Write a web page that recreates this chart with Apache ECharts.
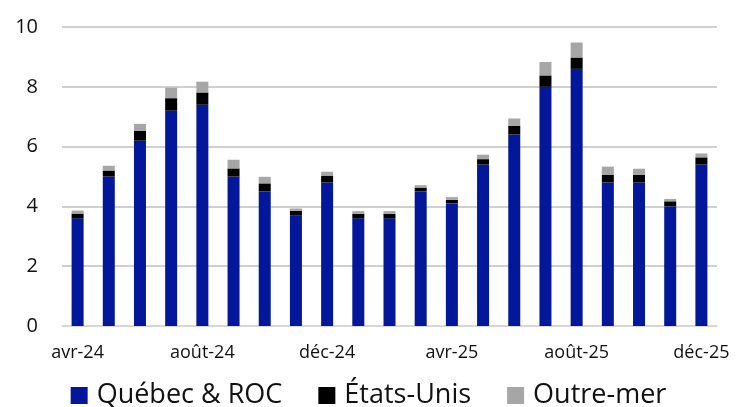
<!DOCTYPE html>
<html><head><meta charset="utf-8">
<script src="https://cdn.jsdelivr.net/npm/echarts@6/dist/echarts.min.js"></script>
<style>html,body{margin:0;padding:0;background:#fff}#c{width:737px;height:407px}</style>
</head><body><div id="c"></div>
<script>
const categories = ['avr-24','mai-24','juin-24','juil-24','août-24','sept-24','oct-24','nov-24','déc-24','janv-25','févr-25','mars-25','avr-25','mai-25','juin-25','juil-25','août-25','sept-25','oct-25','nov-25','déc-25'];
const quebecROC = [3.6,5.0,6.2,7.2,7.4,5.0,4.5,3.7,4.8,3.6,3.6,4.5,4.1,5.4,6.4,8.0,8.6,4.8,4.8,4.0,5.4];
const etatsUnis = [0.16,0.2,0.33,0.42,0.41,0.27,0.27,0.15,0.23,0.15,0.15,0.13,0.12,0.18,0.3,0.38,0.38,0.25,0.25,0.17,0.24];
const outreMer = [0.1,0.16,0.23,0.35,0.36,0.29,0.22,0.08,0.13,0.09,0.09,0.08,0.09,0.15,0.24,0.45,0.5,0.28,0.21,0.08,0.13];
const yTicks = {min:0, max:10, interval:2};
const font = '"Open Sans", sans-serif';
const chart = echarts.init(document.getElementById('c'), null, {renderer:'canvas'});
chart.setOption({
  animation:false,
  grid:{left:62, right:20, top:27, bottom:81, containLabel:false},
  legend:{
    top:377, left:'center', icon:'rect', itemWidth:17, itemHeight:17, itemGap:36,
    textStyle:{fontFamily:font, fontSize:27, color:'#111', padding:[0,0,0,4]},
    data:['Québec & ROC','États-Unis','Outre-mer']
  },
  xAxis:{
    type:'category', data:categories, boundaryGap:true,
    axisLine:{lineStyle:{color:'#d9d9d9', width:1.5}},
    axisTick:{interval:3, length:6, lineStyle:{color:'#d9d9d9', width:1.5}},
    axisLabel:{interval:3, fontFamily:font, fontSize:18, color:'#111', margin:18}
  },
  yAxis:{
    type:'value', min:yTicks.min, max:yTicks.max, interval:yTicks.interval,
    axisLine:{show:false}, axisTick:{show:false},
    splitLine:{lineStyle:{color:'#c0c0c0', width:1.5}},
    axisLabel:{fontFamily:font, fontSize:20, color:'#111', margin:24}
  },
  series:[
    {name:'Québec & ROC', type:'bar', stack:'t', data:quebecROC, barWidth:12, itemStyle:{color:'#03179a'}},
    {name:'États-Unis', type:'bar', stack:'t', data:etatsUnis, barWidth:12, itemStyle:{color:'#000000'}},
    {name:'Outre-mer', type:'bar', stack:'t', data:outreMer, barWidth:12, itemStyle:{color:'#a6a6a6'}}
  ]
});
</script></body></html>
